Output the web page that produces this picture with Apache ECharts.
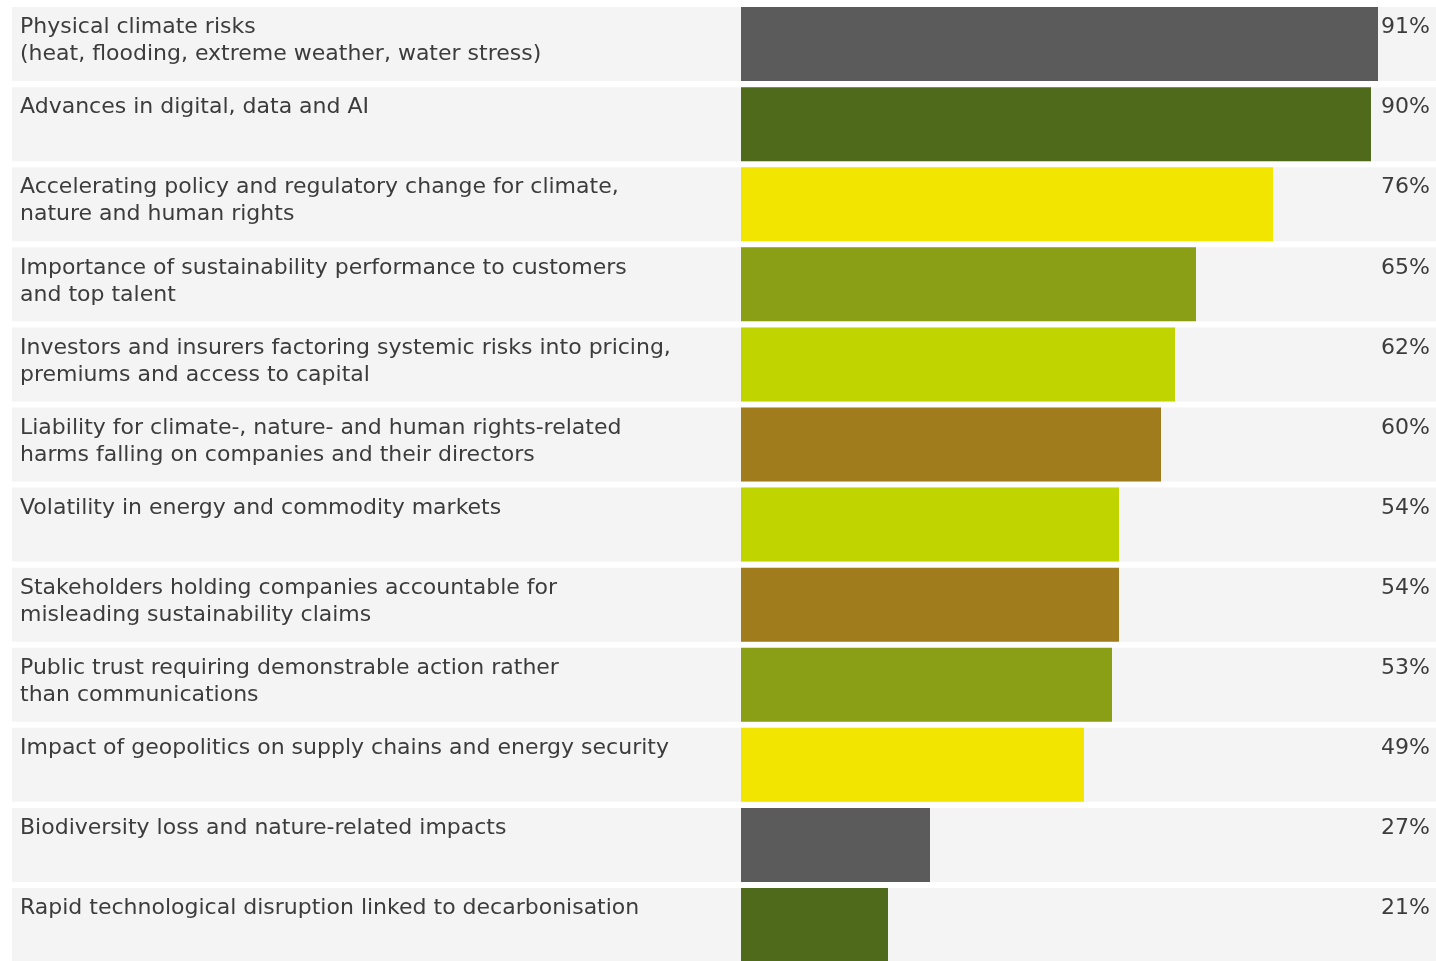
<!DOCTYPE html>
<html>
<head>
<meta charset="utf-8">
<script src="https://cdn.jsdelivr.net/npm/echarts@6/dist/echarts.min.js"></script>
<style>
  html, body { margin: 0; padding: 0; background: #ffffff; }
  #chart { width: 1436px; height: 961px; }
</style>
</head>
<body>
<div id="chart"></div>
<script>
// Drivers of change, share of respondents (%)
const categories = [
  'Physical climate risks\n(heat, flooding, extreme weather, water stress)',
  'Advances in digital, data and AI',
  'Accelerating policy and regulatory change for climate,\nnature and human rights',
  'Importance of sustainability performance to customers\nand top talent',
  'Investors and insurers factoring systemic risks into pricing,\npremiums and access to capital',
  'Liability for climate-, nature- and human rights-related\nharms falling on companies and their directors',
  'Volatility in energy and commodity markets',
  'Stakeholders holding companies accountable for\nmisleading sustainability claims',
  'Public trust requiring demonstrable action rather\nthan communications',
  'Impact of geopolitics on supply chains and energy security',
  'Biodiversity loss and nature-related impacts',
  'Rapid technological disruption linked to decarbonisation'
];
const values = [91, 90, 76, 65, 62, 60, 54, 54, 53, 49, 27, 21];
const barColors = [
  '#5b5b5b', '#4f6a1a', '#f2e600', '#8a9f16', '#c0d400', '#a17c1c',
  '#c0d400', '#a17c1c', '#8a9f16', '#f2e600', '#5b5b5b', '#4f6a1a'
];

const FONT = '"DejaVu Sans", "Noto Sans", sans-serif';
const TEXT = '#3c3c3c';
const ROW_H = 74;

const chart = echarts.init(document.getElementById('chart'), null, { renderer: 'canvas' });

chart.setOption({
  animation: false,
  backgroundColor: '#ffffff',
  grid: [
    // full-width row strips holding the labels
    { left: 12, width: 1430, top: 4, height: 961, outerBoundsMode: 'none' },
    // the bars themselves; the 0-100 scale runs slightly past the right edge
    { left: 741, width: 700, top: 4, height: 961, outerBoundsMode: 'none' }
  ],
  xAxis: [
    { gridIndex: 0, type: 'value', min: 0, max: 1, show: false },
    { gridIndex: 1, type: 'value', min: 0, max: 100, show: false }
  ],
  yAxis: [
    { gridIndex: 0, type: 'category', data: categories, inverse: true, show: false },
    { gridIndex: 1, type: 'category', data: categories, inverse: true, show: false }
  ],
  series: [
    {
      name: 'row',
      type: 'bar',
      xAxisIndex: 0, yAxisIndex: 0,
      barWidth: ROW_H,
      silent: true,
      data: categories.map(() => 1),
      itemStyle: { color: '#f4f4f4' },
      label: {
        show: true,
        position: [8, 7],
        formatter: p => categories[p.dataIndex],
        color: TEXT,
        fontFamily: FONT,
        fontSize: 22,
        lineHeight: 27,
        align: 'left',
        verticalAlign: 'top'
      }
    },
    {
      name: 'value',
      type: 'bar',
      xAxisIndex: 0, yAxisIndex: 0,
      barWidth: ROW_H,
      barGap: '-100%',
      silent: true,
      data: categories.map(() => 1),
      itemStyle: { color: 'rgba(0,0,0,0)' },
      label: {
        show: true,
        position: [1418, 7],
        formatter: p => values[p.dataIndex] + '%',
        color: TEXT,
        fontFamily: FONT,
        fontSize: 22,
        lineHeight: 27,
        align: 'right',
        verticalAlign: 'top'
      }
    },
    {
      name: 'share',
      type: 'bar',
      xAxisIndex: 1, yAxisIndex: 1,
      barWidth: ROW_H,
      data: values.map((v, i) => ({ value: v, itemStyle: { color: barColors[i] } }))
    }
  ]
});
</script>
</body>
</html>
